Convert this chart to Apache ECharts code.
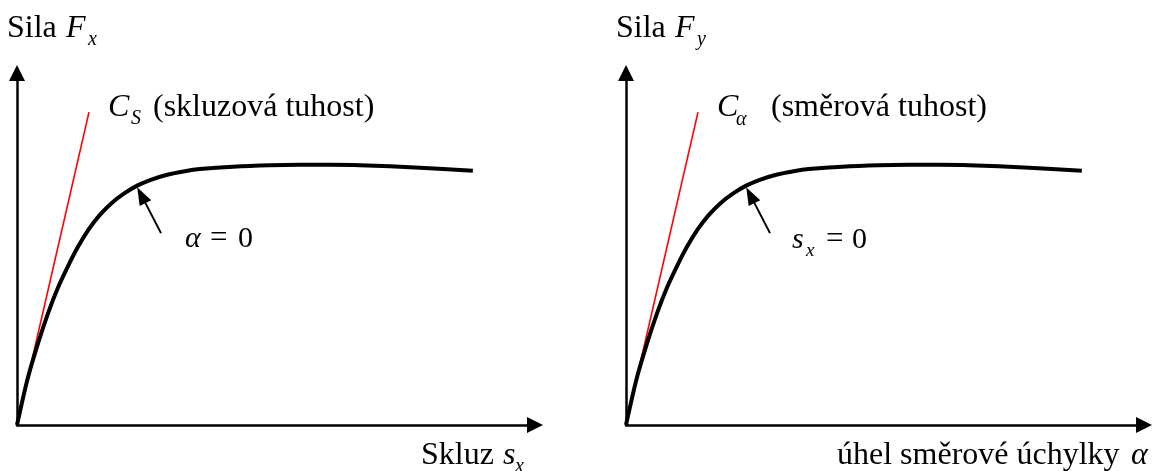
<!DOCTYPE html>
<html>
<head>
<meta charset="utf-8">
<script src="https://cdn.jsdelivr.net/npm/echarts@6/dist/echarts.min.js"></script>
<style>
  html, body { margin: 0; padding: 0; background: #fff; }
  #chart { width: 1154px; height: 471px; }
</style>
</head>
<body>
<div id="chart"></div>
<script>
// Tyre force characteristic: force vs slip (left) and force vs slip angle (right).
// Arbitrary units, both axes 0..10.
const fxSlip  = [0, 0.21, 0.41, 0.60, 0.79, 0.99, 1.18, 1.39, 1.60, 1.83, 2.07, 2.32, 2.57, 2.90, 3.24, 3.53, 4.17, 4.88, 5.46, 6.04, 6.62, 7.78, 8.80];
const fxForce = [0, 1.34, 2.34, 3.18, 3.90, 4.53, 5.07, 5.57, 5.97, 6.31, 6.58, 6.80, 6.96, 7.11, 7.21, 7.27, 7.34, 7.38, 7.39, 7.39, 7.38, 7.31, 7.22];
const fyAngle = [0, 0.21, 0.41, 0.60, 0.79, 0.99, 1.18, 1.39, 1.60, 1.83, 2.07, 2.32, 2.57, 2.90, 3.24, 3.53, 4.17, 4.88, 5.46, 6.04, 6.62, 7.78, 8.80];
const fyForce = [0, 1.34, 2.34, 3.18, 3.90, 4.53, 5.07, 5.57, 5.97, 6.31, 6.58, 6.80, 6.96, 7.11, 7.21, 7.27, 7.34, 7.38, 7.39, 7.39, 7.38, 7.31, 7.22];

// Initial stiffness tangents (from origin to end point)
const fxTangent = [[0, 0], [1.39, 8.89]];
const fyTangent = [[0, 0], [1.39, 8.89]];

// Pointer arrows to the curve (tail -> head)
const fxPointer = [[2.78, 5.45], [2.40, 6.53]];
const fyPointer = [[2.78, 5.45], [2.40, 6.53]];

const AXIS_MAX = 10;
const SERIF = '"Liberation Serif", "Times New Roman", serif';

function pairs(xs, ys) { return xs.map((x, i) => [x, ys[i]]); }

function axis(i) {
  return {
    type: 'value', gridIndex: i, min: 0, max: AXIS_MAX,
    axisLine: { show: true, onZero: false, symbol: ['none', 'triangle'], symbolSize: [16, 16],
                lineStyle: { color: '#000', width: 2.5 } },
    axisTick: { show: false }, axisLabel: { show: false }, splitLine: { show: false }
  };
}

function panelSeries(i, xs, ys, tangent, pointer) {
  return [
    { type: 'line', xAxisIndex: i, yAxisIndex: i, data: tangent, symbol: 'none', silent: true,
      lineStyle: { color: '#ff0000', width: 1.6 }, z: 2 },
    { type: 'line', xAxisIndex: i, yAxisIndex: i, data: pairs(xs, ys), symbol: 'none', silent: true,
      smooth: 0.3,
      lineStyle: { color: '#000', width: 4, cap: 'butt' }, z: 3,
      markLine: {
        silent: true, symbol: ['none', 'triangle'], symbolSize: [13, 18],
        label: { show: false }, lineStyle: { color: '#000', width: 2, type: 'solid' },
        data: [[{ coord: pointer[0] }, { coord: pointer[1] }]]
      } }
  ];
}

// Text placed by baseline
function txt(x, base, text, size, italic) {
  return {
    type: 'text', x: x, y: base - 0.3375 * size, silent: true,
    style: { text: text, font: (italic ? 'italic ' : '') + size + 'px ' + SERIF, fill: '#000',
             align: 'left', verticalAlign: 'middle', textAlign: 'left', textVerticalAlign: 'middle' }
  };
}

const texts = [
  // left panel
  txt(7, 39, 'Sila', 32), txt(66, 39, 'F', 32, true), txt(88, 46, 'x', 20, true),
  txt(108, 118, 'C', 32, true), txt(131, 125, 'S', 20, true), txt(153, 118, '(skluzová tuhost)', 32),
  txt(185, 249, 'α', 30, true), txt(210, 249, '=', 31), txt(238, 249, '0', 30),
  txt(421, 466, 'Skluz', 32), txt(503, 466, 's', 32, true), txt(515, 473, 'x', 20, true),
  // right panel
  txt(616, 39, 'Sila', 32), txt(675, 39, 'F', 32, true), txt(697, 46, 'y', 20, true),
  txt(717, 118, 'C', 32, true), txt(736, 126, 'α', 20, true), txt(771, 118, '(směrová tuhost)', 32),
  txt(792, 250, 's', 30, true), txt(806, 257, 'x', 19, true), txt(826, 250, '=', 31), txt(852, 250, '0', 30),
  txt(837, 466, 'úhel směrové úchylky', 32), txt(1131, 466, 'α', 32, true)
];

const chart = echarts.init(document.getElementById('chart'), null, { renderer: 'canvas' });
chart.setOption({
  animation: false,
  backgroundColor: '#fff',
  grid: [
    { left: 17, top: 73, width: 518, height: 352 },
    { left: 626, top: 73, width: 518, height: 352 }
  ],
  xAxis: [axis(0), axis(1)],
  yAxis: [axis(0), axis(1)],
  series: [
    ...panelSeries(0, fxSlip, fxForce, fxTangent, fxPointer),
    ...panelSeries(1, fyAngle, fyForce, fyTangent, fyPointer)
  ],
  graphic: texts
});
</script>
</body>
</html>
